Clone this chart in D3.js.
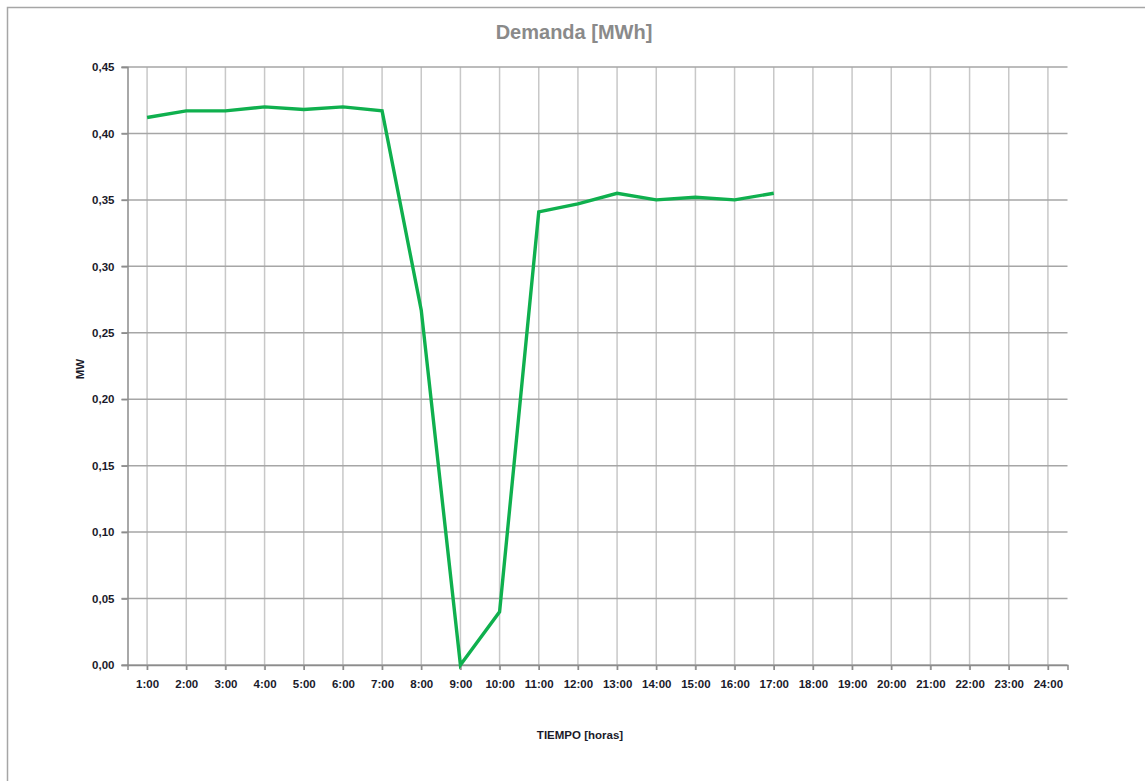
<!DOCTYPE html>
<html><head><meta charset="utf-8">
<script src="https://cdn.jsdelivr.net/npm/d3@7"></script>
<style>html,body{margin:0;padding:0;background:#fff;}svg{display:block;font-family:"Liberation Sans",Arial,sans-serif;}</style>
</head><body>
<script>
const hours = ["1:00","2:00","3:00","4:00","5:00","6:00","7:00","8:00","9:00","10:00","11:00","12:00","13:00","14:00","15:00","16:00","17:00","18:00","19:00","20:00","21:00","22:00","23:00","24:00"];
const demanda = [0.412,0.417,0.417,0.420,0.418,0.420,0.417,0.267,0.000,0.040,0.341,0.347,0.355,0.350,0.352,0.350,0.355];
const yTicks = [0,0.05,0.10,0.15,0.20,0.25,0.30,0.35,0.40,0.45];
const title = "Demanda [MWh]";
const xTitle = "TIEMPO [horas]";
const yTitle = "MW";

const W = 1145, H = 781;
const m = {left:127.5, right:1067.5, top:67, bottom:665};
const svg = d3.select("body").append("svg").attr("width",W).attr("height",H);

svg.append("rect").attr("x",7.5).attr("y",7.5).attr("width",W+20).attr("height",H+20)
  .attr("fill","none").attr("stroke","#a6a6a6").attr("stroke-width",1.5);

const x = d3.scalePoint().domain(hours).range([m.left, m.right]).padding(0.5);
const y = d3.scaleLinear().domain([0,0.45]).range([m.bottom, m.top]);
const fmt = d => d3.format(".2f")(d).replace(".", ",");

// vertical gridlines
svg.append("g").selectAll("line").data(hours).join("line")
  .attr("x1",d=>x(d)).attr("x2",d=>x(d)).attr("y1",m.top).attr("y2",m.bottom+5)
  .attr("stroke","#c8c8c8").attr("stroke-width",1.5);
// horizontal gridlines
svg.append("g").selectAll("line").data(yTicks).join("line")
  .attr("x1",m.left-6).attr("x2",m.right).attr("y1",d=>y(d)).attr("y2",d=>y(d))
  .attr("stroke","#a6a6a6").attr("stroke-width",1.5);

// y axis
const ya = svg.append("g").attr("transform",`translate(${m.left},0)`)
  .call(d3.axisLeft(y).tickValues(yTicks).tickFormat(fmt).tickSize(6).tickPadding(7));
ya.select(".domain").attr("stroke","#8c8c8c").attr("stroke-width",1.5);
ya.selectAll(".tick line").attr("stroke","#8c8c8c").attr("stroke-width",1.5);
ya.selectAll("text").attr("font-family","Liberation Sans, Arial").attr("font-size",11.5)
  .attr("font-weight","bold").attr("fill","#1a1a2a");

// x axis
const xa = svg.append("g").attr("transform",`translate(0,${m.bottom})`)
  .call(d3.axisBottom(x).tickSize(5).tickPadding(10).tickSizeOuter(5));
xa.select(".domain").attr("stroke","#8c8c8c").attr("stroke-width",1.5);
xa.selectAll(".tick line").attr("stroke","#8c8c8c").attr("stroke-width",1.5);
xa.selectAll("text").attr("font-family","Liberation Sans, Arial").attr("font-size",11.5)
  .attr("font-weight","bold").attr("fill","#1a1a2a");

// line
const line = d3.line().x((d,i)=>x(hours[i])).y(d=>y(d));
svg.append("path").datum(demanda).attr("d",line).attr("fill","none")
  .attr("stroke","#0fb04e").attr("stroke-width",3.4).attr("stroke-linejoin","miter");

// titles
svg.append("text").attr("x",574).attr("y",39).attr("text-anchor","middle")
  .attr("font-size",20).attr("font-weight","bold").attr("fill","#8a8a8a").text(title);
svg.append("text").attr("x",580).attr("y",739).attr("text-anchor","middle")
  .attr("font-size",11.5).attr("font-weight","bold").attr("fill","#1a1a2a").text(xTitle);
svg.append("text").attr("transform","translate(84,369) rotate(-90)").attr("text-anchor","middle")
  .attr("font-size",11.5).attr("font-weight","bold").attr("fill","#1a1a2a").text(yTitle);
</script>
</body></html>
